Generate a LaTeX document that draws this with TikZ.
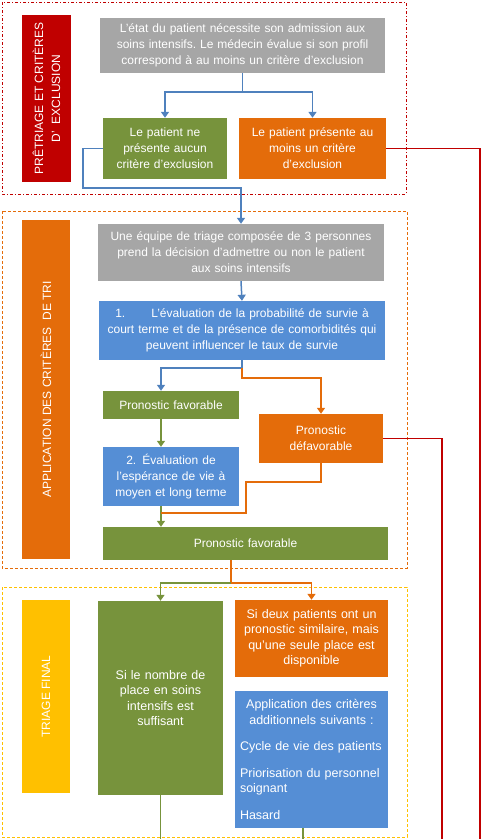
\documentclass[tikz,border=0pt]{standalone}
\usepackage{fontspec}
\setmainfont{Liberation Sans}
\definecolor{triagered}{HTML}{C00000}
\definecolor{triageorange}{HTML}{E46C0A}
\definecolor{triagegreen}{HTML}{77933C}
\definecolor{triageblue}{HTML}{558ED5}
\definecolor{triagegray}{HTML}{A6A6A6}
\definecolor{triageyellow}{HTML}{FFC000}
\definecolor{linkblue}{HTML}{4F81BD}
\usetikzlibrary{arrows.meta}
\tikzset{
    triagebox/.style={
        draw=none,
        text=white,
        inner sep=3pt,
        align=center,
        font=\fontsize{12}{16}\selectfont
    },
    stagelabel/.style={
        draw=none,
        text=white,
        rotate=90,
        inner sep=2pt,
        align=center,
        font=\fontsize{12}{17}\selectfont
    },
    zoneframe/.style={
        line width=1pt
    },
    flowline/.style={
        line width=1.5pt
    },
    flowarrow/.style={
        flowline,
        -{Triangle[length=6pt,width=8pt]}
    }
}

\begin{document}
\begin{tikzpicture}[x=1pt,y=-1pt,
        finalbox/.style={triagebox,font=\fontsize{12.5}{15.5}\selectfont}
    ]
    \useasboundingbox (0,0) rectangle (483,839);

    \draw[zoneframe,draw=triagered,dash dot] (2,2) rectangle (406,194);
    \draw[zoneframe,draw=triageorange,densely dashed] (2,211) rectangle (407,568);
    \draw[zoneframe,draw=triageyellow,densely dashed] (2,587) rectangle (407,837);

    \node[stagelabel,fill=triagered,minimum width=167pt,minimum height=49pt] (labelpre) at (46.5,98.5)
        {PRÊTRIAGE ET CRITÈRES\\D’\ \ EXCLUSION};
    \node[stagelabel,fill=triageorange,minimum width=339pt,minimum height=48pt] (labeltri) at (46,389.5)
        {APPLICATION DES CRITÈRES\ \ DE TRI};
    \node[stagelabel,fill=triageyellow,minimum width=193pt,minimum height=48pt] (labelfinal) at (46,696.5)
        {TRIAGE FINAL};

    \node[triagebox,fill=triagegray,minimum width=285pt,minimum height=55pt,text width=279pt] (etat) at (242.5,45.5)
        {L'état du patient nécessite son admission aux\\soins intensifs.\ Le médecin évalue si son profil\\correspond à au moins un critère d'exclusion};
    \node[triagebox,fill=triagegreen,minimum width=124pt,minimum height=61pt,text width=118pt] (aucun) at (165,148.5)
        {Le patient ne\\présente aucun\\critère d'exclusion};
    \node[triagebox,fill=triageorange,minimum width=147pt,minimum height=61pt,text width=141pt] (exclu) at (312.5,148.5)
        {Le patient présente au\\moins un critère\\d'exclusion};

    \node[triagebox,fill=triagegray,minimum width=286pt,minimum height=57pt,text width=280pt] (equipe) at (241,252.5)
        {Une équipe de triage composée de 3 personnes\\prend la décision d'admettre ou non le patient\\aux soins intensifs};
    \node[triagebox,fill=triageblue,minimum width=286pt,minimum height=59pt,text width=280pt] (survie) at (242,330.5)
        {1.\hspace{26pt}L'évaluation de la probabilité de survie à\\court terme et de la présence de comorbidités qui\\peuvent influencer le taux de survie};
    \node[triagebox,fill=triagegreen,minimum width=136pt,minimum height=28pt,text width=130pt] (favun) at (171,405)
        {Pronostic favorable};
    \node[triagebox,fill=triageorange,minimum width=124pt,minimum height=49pt,text width=118pt] (defav) at (321,438.5)
        {Pronostic\\défavorable};
    \node[triagebox,fill=triageblue,minimum width=136pt,minimum height=59pt,text width=130pt] (esperance) at (171,476.5)
        {2. Évaluation de\\l'espérance de vie à\\moyen et long terme};
    \node[triagebox,fill=triagegreen,minimum width=285pt,minimum height=33pt,text width=279pt] (favdeux) at (245.5,543.5)
        {Pronostic favorable};

    \node[finalbox,fill=triagegreen,minimum width=125pt,minimum height=194pt,text width=119pt] (suffisant) at (160.5,698)
        {Si le nombre de\\place en soins\\intensifs est\\suffisant\\[6pt]};
    \node[finalbox,fill=triageorange,minimum width=153pt,minimum height=77pt,text width=147pt] (similaire) at (311.5,638.5)
        {Si deux patients ont un\\pronostic similaire, mais\\qu'une seule place est\\disponible};
    \node[finalbox,fill=triageblue,minimum width=153pt,minimum height=137pt,text width=143pt,align=left] (additionnels) at (311.5,759.5)
        {\centering Application des critères\\additionnels suivants :\par
         \raggedright\vspace{11pt}Cycle de vie des patients\par
         \vspace{11pt}Priorisation du personnel\\soignant\par
         \vspace{11pt}Hasard\par};

    \coordinate (spine) at (161,0);
    \coordinate (bottom) at (0,839);
    \coordinate (passdown) at (241,188);
    \coordinate (merge) at (161,513);
    \coordinate (splitthree) at (231,583);
    \coordinate (additionnelsout) at (303,828);
    \path (survie.south) ++(0,8) coordinate (splittwo);

    \draw[flowarrow,draw=linkblue] (etat.south) -- ++(0,19) -| (aucun.north);
    \draw[flowarrow,draw=linkblue] (etat.south) ++(0,19) -| (exclu.north);
    \draw[flowarrow,draw=linkblue] (aucun.west) -- ++(-20,0) |- (passdown) -- (equipe.north);
    \draw[flowline,draw=triagered] (exclu.east) -| (480,839);

    \draw[flowarrow,draw=linkblue] (equipe.south) -- (survie.north);
    \draw[flowarrow,draw=linkblue] (survie.south) -- (splittwo) -| (favun.north -| spine);
    \draw[flowarrow,draw=triageorange] (splittwo) -- ++(0,10) -| (defav.north);
    \draw[flowarrow,draw=triagegreen] (favun.south -| spine) -- (esperance.north -| spine);
    \draw[flowarrow,draw=triagegreen] (esperance.south -| spine) -- (favdeux.north -| spine);
    \draw[flowline,draw=triageorange] (defav.south) -- ++(0,19) -- ++(-75,0) |- (merge);
    \draw[flowline,draw=triagered] (defav.east) -| (442,839);

    \draw[flowline,draw=triageorange] (favdeux.south -| splitthree) -- (splitthree);
    \draw[flowarrow,draw=triagegreen] (splitthree) -| (suffisant.north);
    \draw[flowarrow,draw=triageorange] (splitthree) -| (similaire.north);
    \draw[flowline,draw=triagegreen] (suffisant.south) -- (suffisant.south |- bottom);
    \draw[flowline,draw=triagegreen] (additionnelsout) -- (additionnelsout |- bottom);
\end{tikzpicture}
\end{document}
